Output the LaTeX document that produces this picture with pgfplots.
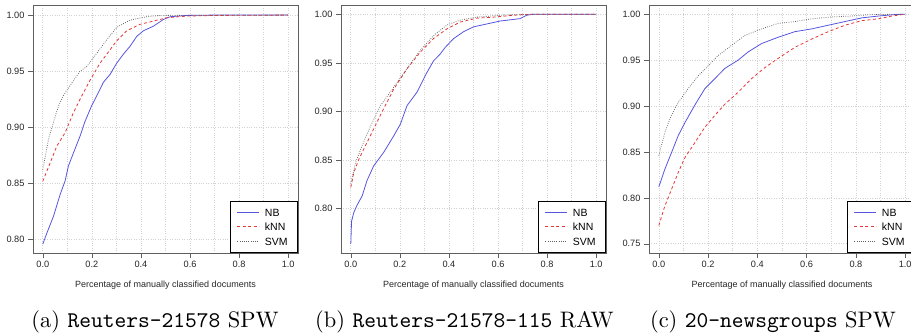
\documentclass[border=0pt]{standalone}
\usepackage{fontspec}
\usepackage{pgfplots}
\usepackage{pgfplotstable}
\pgfplotsset{compat=1.18}
\newfontfamily\helv{Liberation Sans}
\definecolor{nbc}{RGB}{85,85,225}
\definecolor{knnc}{RGB}{230,55,55}
\definecolor{svmc}{RGB}{95,95,95}
\definecolor{gridc}{RGB}{210,210,210}
\definecolor{boxc}{RGB}{95,95,95}

\pgfplotstableread{
x y
0 0.7955
0.016 0.805
0.043 0.820
0.064 0.835
0.071 0.840
0.091 0.852
0.104 0.865
0.125 0.877
0.152 0.892
0.172 0.905
0.199 0.919
0.220 0.928
0.247 0.940
0.274 0.947
0.301 0.957
0.328 0.965
0.355 0.972
0.383 0.981
0.410 0.986
0.450 0.990
0.491 0.996
0.518 0.9985
0.586 0.9997
0.700 1.0
1.0 1.0
}\aNB
\pgfplotstableread{
x y
0 0.8516
0.030 0.868
0.057 0.883
0.091 0.895
0.125 0.913
0.159 0.928
0.193 0.942
0.233 0.957
0.274 0.969
0.301 0.977
0.342 0.986
0.396 0.9917
0.450 0.9946
0.505 0.9976
0.586 0.9991
0.708 0.9997
1.0 1.0
}\aKNN
\pgfplotstableread{
x y
0 0.862
0.023 0.889
0.043 0.904
0.064 0.919
0.084 0.928
0.111 0.937
0.152 0.950
0.179 0.954
0.220 0.966
0.261 0.978
0.301 0.989
0.355 0.9955
0.423 0.9985
0.478 0.9997
1.0 1.0
}\aSVM

\pgfplotstableread{
x y
0 0.764
0.003 0.787
0.012 0.796
0.026 0.804
0.046 0.813
0.066 0.829
0.093 0.844
0.134 0.858
0.175 0.875
0.202 0.887
0.229 0.906
0.270 0.920
0.310 0.940
0.337 0.952
0.364 0.959
0.385 0.966
0.419 0.975
0.459 0.982
0.500 0.987
0.554 0.990
0.608 0.993
0.690 0.9955
0.717 0.999
0.744 1.0
1.0 1.0
}\bNB
\pgfplotstableread{
x y
0 0.822
0.012 0.837
0.033 0.851
0.060 0.865
0.093 0.882
0.134 0.903
0.175 0.923
0.229 0.944
0.283 0.961
0.337 0.975
0.392 0.985
0.446 0.992
0.514 0.996
0.581 0.997
0.663 0.999
0.744 1.0
1.0 1.0
}\bKNN
\pgfplotstableread{
x y
0 0.826
0.019 0.847
0.046 0.865
0.080 0.885
0.121 0.906
0.175 0.925
0.229 0.944
0.283 0.963
0.337 0.978
0.392 0.989
0.446 0.994
0.514 0.997
0.608 0.999
0.744 1.0
1.0 1.0
}\bSVM

\pgfplotstableread{
x y
0 0.812
0.024 0.831
0.051 0.849
0.079 0.868
0.106 0.882
0.146 0.901
0.187 0.919
0.228 0.930
0.268 0.941
0.322 0.950
0.363 0.959
0.417 0.968
0.485 0.975
0.553 0.981
0.621 0.984
0.688 0.988
0.756 0.992
0.824 0.996
0.892 0.998
0.959 0.9996
1.0 1.0
}\cNB
\pgfplotstableread{
x y
0 0.770
0.024 0.791
0.051 0.809
0.079 0.828
0.106 0.844
0.146 0.860
0.187 0.877
0.228 0.890
0.268 0.902
0.322 0.915
0.377 0.930
0.431 0.942
0.485 0.952
0.553 0.964
0.621 0.973
0.688 0.981
0.756 0.988
0.824 0.993
0.892 0.995
0.946 0.998
1.0 1.0
}\cKNN
\pgfplotstableread{
x y
0 0.846
0.024 0.871
0.051 0.890
0.079 0.904
0.119 0.919
0.160 0.933
0.201 0.944
0.241 0.955
0.295 0.966
0.350 0.977
0.417 0.984
0.485 0.990
0.553 0.992
0.621 0.995
0.702 0.997
0.783 0.998
0.864 0.9996
1.0 1.0
}\cSVM

\pgfplotsset{
  myax/.style={
    scale only axis, width=265pt, height=248pt,
    xmin=-0.04, xmax=1.04,
    xtick={0,0.2,0.4,0.6,0.8,1},
    minor xtick={0.1,0.3,0.5,0.7,0.9},
    xtick pos=bottom, ytick pos=left,
    tick align=outside, major tick length=5pt, minor tick length=0pt,
    grid=both,
    major grid style={gridc, dotted, line width=0.7pt},
    minor grid style={gridc, dotted, line width=0.7pt},
    axis line style={boxc, line width=0.8pt},
    every tick/.style={boxc, line width=0.6pt},
    tick label style={font=\helv\fontsize{9.2}{10}\selectfont, text=black!85},
    /pgf/number format/assume math mode=true,
    xticklabel style={/pgf/number format/.cd, fixed, fixed zerofill, precision=1},
    yticklabel style={/pgf/number format/.cd, fixed, fixed zerofill, precision=2},
    xlabel={Percentage of manually classified documents},
    xlabel style={font=\helv\fontsize{9}{10}\selectfont, text=black!85, at={(axis description cs:0.5,0)}, anchor=center, yshift=-32pt},
    legend style={at={(rel axis cs:1,0)}, anchor=south east, draw=black, line width=0.6pt, fill=white,
      font=\helv\fontsize{10.5}{11}\selectfont, inner xsep=7pt, inner ysep=4pt,
      nodes={text height=7.5pt, text depth=0pt, inner ysep=3.5pt, inner xsep=3pt},
      /tikz/every odd column/.append style={column sep=2pt}},
    legend cell align=left,
    legend image code/.code={\draw[#1, line width=1pt] (0pt,0pt) -- (22pt,0pt);},
  },
}

\begin{document}
\begin{tikzpicture}
\begin{axis}[myax, at={(33pt,80pt)}, anchor=south west, ymin=0.7875, ymax=1.009,
  ytick={0.80,0.85,0.90,0.95,1.00}]
\addplot[color=nbc, line width=0.8pt, no marks] table {\aNB}; \addlegendentry{NB}
\addplot[color=knnc, line width=0.8pt, dash pattern=on 3pt off 2.5pt, no marks] table {\aKNN}; \addlegendentry{kNN}
\addplot[color=svmc, line width=0.8pt, dash pattern=on 0.7pt off 1.5pt, no marks] table {\aSVM}; \addlegendentry{SVM}
\end{axis}
\begin{axis}[myax, at={(341pt,80pt)}, anchor=south west, ymin=0.7545, ymax=1.0095,
  ytick={0.80,0.85,0.90,0.95,1.00}]
\addplot[color=nbc, line width=0.8pt, no marks] table {\bNB}; \addlegendentry{NB}
\addplot[color=knnc, line width=0.8pt, dash pattern=on 3pt off 2.5pt, no marks] table {\bKNN}; \addlegendentry{kNN}
\addplot[color=svmc, line width=0.8pt, dash pattern=on 0.7pt off 1.5pt, no marks] table {\bSVM}; \addlegendentry{SVM}
\end{axis}
\begin{axis}[myax, width=266pt, at={(649pt,80pt)}, anchor=south west, ymin=0.74, ymax=1.01,
  ytick={0.75,0.80,0.85,0.90,0.95,1.00}]
\addplot[color=nbc, line width=0.8pt, no marks] table {\cNB}; \addlegendentry{NB}
\addplot[color=knnc, line width=0.8pt, dash pattern=on 3pt off 2.5pt, no marks] table {\cKNN}; \addlegendentry{kNN}
\addplot[color=svmc, line width=0.8pt, dash pattern=on 0.7pt off 1.5pt, no marks] table {\cSVM}; \addlegendentry{SVM}
\end{axis}
\node[anchor=base, scale=2.24] at (155pt,5.5pt) {(a) \texttt{Reuters-21578} SPW};
\node[anchor=base, scale=2.24] at (464.5pt,5.5pt) {(b) \texttt{Reuters-21578-115} RAW};
\node[anchor=base, scale=2.24] at (773pt,5.5pt) {(c) \texttt{20-newsgroups} SPW};
\pgfresetboundingbox
\useasboundingbox (0,0) rectangle (911pt,333pt);
\end{tikzpicture}
\end{document}
